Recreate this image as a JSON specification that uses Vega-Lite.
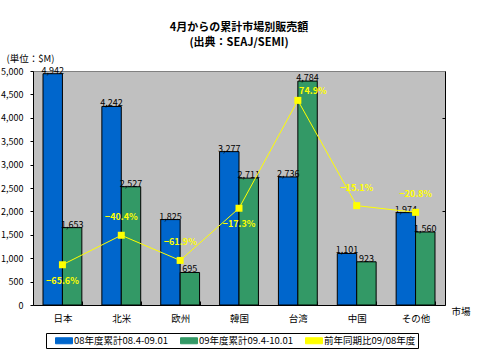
{
  "$schema": "https://vega.github.io/schema/vega-lite/v6.json",
  "autosize": {"type": "none"},
  "padding": {"left": 33, "top": 71, "right": 33, "bottom": 48},
  "width": 412,
  "height": 234,
  "background": "white",
  "config": {
    "font": "Noto Sans CJK JP",
    "view": {"fill": "#C0C0C0", "stroke": "#808080", "strokeWidth": 1},
    "axis": {"labelFont": "Noto Sans CJK JP", "titleFont": "Noto Sans CJK JP", "labelColor": "black", "titleColor": "black", "domainColor": "black", "tickColor": "black", "grid": false, "labelFontSize": 9, "titleFontSize": 9.5, "titleFontWeight": "normal"}
  },
  "title": {"text": ["4月からの累計市場別販売額", "(出典：SEAJ/SEMI)"], "font": "Noto Sans CJK JP", "fontSize": 11, "fontWeight": "bold", "anchor": "middle", "offset": 5, "lineHeight": 15, "color": "black"},
  "datasets": {
    "bars": [
      {"market": "日本", "series": "08年度累計08.4-09.01", "value": 4942},
      {"market": "日本", "series": "09年度累計09.4-10.01", "value": 1653},
      {"market": "北米", "series": "08年度累計08.4-09.01", "value": 4242},
      {"market": "北米", "series": "09年度累計09.4-10.01", "value": 2527},
      {"market": "欧州", "series": "08年度累計08.4-09.01", "value": 1825},
      {"market": "欧州", "series": "09年度累計09.4-10.01", "value": 695},
      {"market": "韓国", "series": "08年度累計08.4-09.01", "value": 3277},
      {"market": "韓国", "series": "09年度累計09.4-10.01", "value": 2711},
      {"market": "台湾", "series": "08年度累計08.4-09.01", "value": 2736},
      {"market": "台湾", "series": "09年度累計09.4-10.01", "value": 4784},
      {"market": "中国", "series": "08年度累計08.4-09.01", "value": 1101},
      {"market": "中国", "series": "09年度累計09.4-10.01", "value": 923},
      {"market": "その他", "series": "08年度累計08.4-09.01", "value": 1974},
      {"market": "その他", "series": "09年度累計09.4-10.01", "value": 1560}
    ],
    "pct": [
      {"market": "日本", "series": "前年同期比09/08年度", "pct": -0.656, "pos": "below"},
      {"market": "北米", "series": "前年同期比09/08年度", "pct": -0.404, "pos": "above"},
      {"market": "欧州", "series": "前年同期比09/08年度", "pct": -0.619, "pos": "above"},
      {"market": "韓国", "series": "前年同期比09/08年度", "pct": -0.173, "pos": "below"},
      {"market": "台湾", "series": "前年同期比09/08年度", "pct": 0.749, "pos": "right"},
      {"market": "中国", "series": "前年同期比09/08年度", "pct": -0.151, "pos": "above"},
      {"market": "その他", "series": "前年同期比09/08年度", "pct": -0.208, "pos": "above"}
    ]
  },
  "layer": [
    {
      "data": {"name": "bars"},
      "encoding": {
        "x": {"field": "market", "type": "nominal", "sort": ["日本", "北米", "欧州", "韓国", "台湾", "中国", "その他"],
          "scale": {"paddingInner": 0.34, "paddingOuter": 0.17},
          "axis": {"title": "市場", "titleX": 418, "titleY": 6, "titleAlign": "left", "titleBaseline": "middle", "labelAngle": 0, "labelFontSize": 9.5, "tickBand": "extent", "tickSize": -4, "labelPadding": 12}},
        "xOffset": {"field": "series", "sort": ["08年度累計08.4-09.01", "09年度累計09.4-10.01"]},
        "y": {"field": "value", "type": "quantitative", "scale": {"domain": [0, 5000]},
          "axis": {"values": [0, 500, 1000, 1500, 2000, 2500, 3000, 3500, 4000, 4500, 5000], "format": ",.0f", "tickSize": 3, "labelPadding": 7, "title": "(単位：$M)", "titleAngle": 0, "titleAlign": "left", "titleBaseline": "middle", "titleX": -27, "titleY": -13}}
      },
      "layer": [
        {
          "mark": {"type": "bar", "stroke": "black", "strokeWidth": 1},
          "encoding": {
            "color": {"field": "series", "type": "nominal",
              "scale": {"domain": ["08年度累計08.4-09.01", "09年度累計09.4-10.01", "前年同期比09/08年度"], "range": ["#0066CC", "#339966", "#FFFF00"]},
              "legend": {"orient": "none", "legendX": 13, "legendY": 262, "direction": "horizontal", "columns": 3, "gridAlign": "all", "columnPadding": 4, "title": null,
                "symbolType": "M0.4,-0.6H3.8V0.6H0.4Z", "symbolSize": 100, "symbolStrokeColor": "black", "symbolStrokeWidth": 1, "symbolOpacity": 1,
                "labelFont": "Noto Sans CJK JP", "labelFontSize": 9.5, "labelColor": "black", "labelOffset": 15, "labelLimit": 200,
                "strokeColor": "black", "fillColor": "white", "padding": 2}
            }
          }
        },
        {
          "mark": {"type": "text", "baseline": "bottom", "dy": 2, "fontSize": 9, "color": "black"},
          "encoding": {"text": {"field": "value", "type": "quantitative", "format": ",.0f"}}
        }
      ]
    },
    {
      "data": {"name": "pct"},
      "encoding": {
        "x": {"field": "market", "type": "nominal", "sort": ["日本", "北米", "欧州", "韓国", "台湾", "中国", "その他"]},
        "y": {"field": "pct", "type": "quantitative", "scale": {"domain": [-1, 1]},
          "axis": {"orient": "right", "labels": false, "title": null, "values": [-0.2, 0.6], "tickSize": -3}}
      },
      "layer": [
        {
          "mark": {"type": "line", "strokeWidth": 1, "point": {"shape": "square", "size": 49, "filled": true, "opacity": 1}},
          "encoding": {"color": {"field": "series", "type": "nominal"}}
        },
        {
          "transform": [{"filter": "datum.pos === 'above'"}],
          "mark": {"type": "text", "dy": -18, "fontSize": 9, "fontWeight": "bold", "color": "#FFFF00"},
          "encoding": {"text": {"field": "pct", "type": "quantitative", "format": ".1%"}}
        },
        {
          "transform": [{"filter": "datum.pos === 'below'"}],
          "mark": {"type": "text", "dy": 16, "fontSize": 9, "fontWeight": "bold", "color": "#FFFF00"},
          "encoding": {"text": {"field": "pct", "type": "quantitative", "format": ".1%"}}
        },
        {
          "transform": [{"filter": "datum.pos === 'right'"}],
          "mark": {"type": "text", "dx": 15, "dy": -9, "fontSize": 9, "fontWeight": "bold", "color": "#FFFF00"},
          "encoding": {"text": {"field": "pct", "type": "quantitative", "format": ".1%"}}
        }
      ]
    }
  ],
  "resolve": {"scale": {"y": "independent"}}
}
